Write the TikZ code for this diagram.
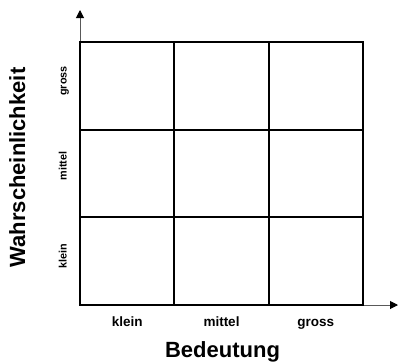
\documentclass[tikz,border=0pt]{standalone}
\usepackage{fontspec}
\setmainfont{Liberation Sans}
\usetikzlibrary{arrows.meta, positioning}

\begin{document}
\begin{tikzpicture}[
    x=1pt, y=-1pt,
    cell/.style={
        rectangle,
        draw,
        line width=2pt,
        minimum width=94.33pt,
        minimum height=87.67pt,
        inner sep=0pt,
        outer sep=0pt
    },
    axis/.style={
        draw=gray!70!black,
        line width=1pt,
        -{Triangle[length=8pt, width=8pt, black]}
    },
    htick/.style={
        font=\fontsize{13.5}{16}\selectfont\bfseries,
        inner sep=0pt,
        text height=9.8pt,
        text depth=2.9pt
    },
    vtick/.style={
        font=\fontsize{10.8}{13}\selectfont\bfseries,
        inner sep=0pt,
        rotate=90,
        anchor=base
    },
    title/.style={
        font=\fontsize{22}{26}\selectfont\bfseries,
        inner sep=0pt,
        anchor=base
    }
]
\useasboundingbox (0,0) rectangle (398,362);

% Axes
\coordinate (origin) at (80,305);
\coordinate (ytip) at (80,10);
\coordinate (xtip) at (398,305);
\draw[axis] (origin) -- (ytip);
\draw[axis] (origin) -- (xtip);

% Grid (3x3)
\foreach \i in {0,1,2}
  \foreach \j in {0,1,2}
    \node[cell] (c\i\j) at (127.17+94.33*\i, 261.17-87.67*\j) {};

% Labels below
\node[htick, below=11pt of c00] (bklein) {klein};
\node[htick, below=11pt of c10] (bmittel) {mittel};
\node[htick, below=11pt of c20] (bgross) {gross};
\node[title] (bedeutung) at (222.5,357) {Bedeutung};

% Labels left
\node[vtick] (wklein) at (66.5,256) {klein};
\node[vtick] (wmittel) at (66.5,166) {mittel};
\node[vtick] (wgross) at (66.5,81) {gross};
\node[title, rotate=90] (wahrsch) at (25,167.5) {Wahrscheinlichkeit};
\end{tikzpicture}
\end{document}
